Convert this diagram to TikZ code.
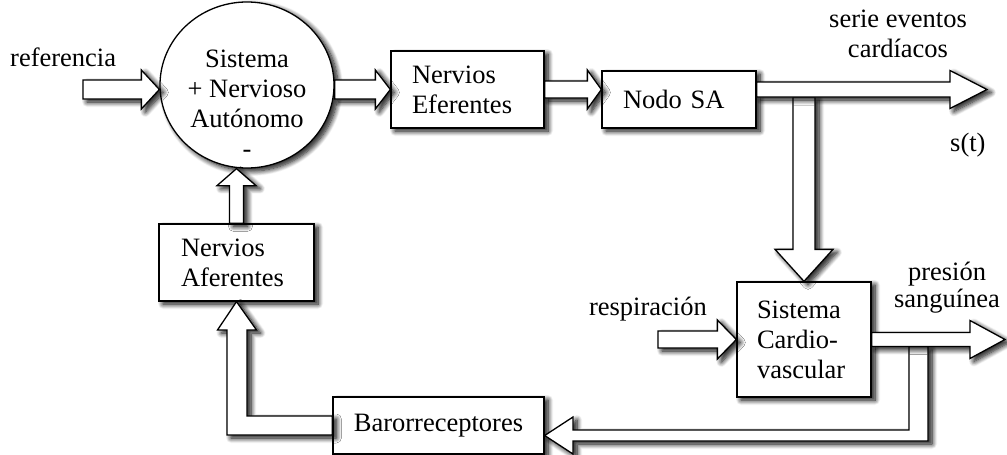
\documentclass[tikz,border=0pt]{standalone}
\usepackage{fontspec}
\setmainfont{Liberation Serif}
\usetikzlibrary{calc,shapes.geometric,shadows.blur}
\tikzset{
  x=1pt,y=-1pt,
  every node/.style={font=\fontsize{26.5}{30}\selectfont, inner sep=0pt},
  sh/.style={blur shadow={shadow xshift=5pt,shadow yshift=-4pt,shadow blur radius=9pt,shadow blur steps=12,shadow opacity=100},
             blur shadow={shadow xshift=4pt,shadow yshift=-3pt,shadow blur radius=5pt,shadow blur steps=8,shadow opacity=60}},
  box/.style={draw, fill=white, line width=1.3pt, sh},
  blk/.style={draw, fill=white, line width=1.3pt, line join=miter, sh},
}
% [opts] start, tip, shaft half width, head half width, head length
\newcommand\barrow[6][]{%
  \path ($(#3)!#6!(#2)$) coordinate (hb);
  \draw[blk,#1] ($(#2)!#4!90:(#3)$) -- ($(hb)!#4!90:(#3)$) -- ($(hb)!#5!90:(#3)$) -- (#3)
     -- ($(hb)!#5!-90:(#3)$) -- ($(hb)!#4!-90:(#3)$) -- ($(#2)!#4!-90:(#3)$) -- cycle;
}
\begin{document}
\begin{tikzpicture}
\useasboundingbox (0,0) rectangle (1007,455);
% blocks
\node[box, ellipse, minimum width=174pt, minimum height=166pt] (circ) at (247,85) {};
\node[box, minimum width=153pt, minimum height=77pt, text width=111pt, align=left] (eff) at (467.5,89.5) {Nervios\\Eferentes};
\node[box, minimum width=154pt, minimum height=57pt, text width=112pt, align=left] (sa) at (679,99.5) {Nodo SA};
\node[box, minimum width=134pt, minimum height=115pt, text width=94pt, align=left] (cv) at (804,339.5) {Sistema\\Cardio-\\vascular};
\node[box, minimum width=155pt, minimum height=77pt, text width=111pt, align=left] (aff) at (236.5,262.5) {Nervios\\Aferentes};
\node[box, minimum width=211pt, minimum height=57pt] (baro) at (438.5,425.5) {Barorreceptores};
% connector end points
\coordinate (refin) at (83,89.5);
\coordinate (refT) at (circ.west |- refin);
\coordinate (circO) at (circ.east |- eff.west);
\coordinate (saIn) at (sa.west |- eff.east);
\coordinate (saO) at (sa.east |- eff.east);
\coordinate (sout) at (987,89.5);
\coordinate (vb) at (cv.north |- 0,97);
\coordinate (circIn) at (aff.north |- circ.south);
\coordinate (resin) at (658,339.5);
\coordinate (pout) at (1005,339.5);
% pipes (drawn first)
\barrow{vb}{cv.north}{11pt}{29pt}{32pt}
\draw[blk] (909,346.5) -- (909,430) -- (573,430) -- (573,417) -- (baro.east |- 0,435.5)
   -- (573,454) -- (573,441) -- (928,441) -- (928,346.5) -- cycle;
\draw[blk] (baro.west |- 0,416) -- (247,416) -- (247,330) -- (256.5,330) -- (aff.south)
   -- (217.5,330) -- (227,330) -- (227,435) -- (baro.west |- 0,435) -- cycle;
\barrow{aff.north}{circIn}{7pt}{19.5pt}{17pt}
\barrow{refin}{refT}{9.5pt}{19.5pt}{18pt}
\barrow{circO}{eff.west}{9.5pt}{19.5pt}{15pt}
\barrow{eff.east}{saIn}{8.5pt}{19.5pt}{14pt}
\barrow{resin}{cv.west}{8.5pt}{19.5pt}{19pt}
\barrow{saO}{sout}{7.5pt}{19pt}{37pt}
\barrow{cv.east}{pout}{7pt}{19pt}{35pt}
% labels (base anchor = baseline of the last line)
\node[anchor=base west] (tref) at (10,66) {referencia};
\node[anchor=base, align=center] (tcirc) at (247,157) {Sistema\\+ Nervioso\hspace*{12pt}\\Autónomo\\-};
\node[anchor=base, align=center] (tserie) at (898,57) {serie eventos\\cardíacos};
\node[anchor=base west] (tst) at (950,151) {s(t)};
\node[anchor=base east] (tresp) at (707,315) {respiración};
\node[anchor=base, align=center, font=\fontsize{26.5}{27}\selectfont] (tpres) at (947,307) {presión\\sanguínea};
\end{tikzpicture}
\end{document}
